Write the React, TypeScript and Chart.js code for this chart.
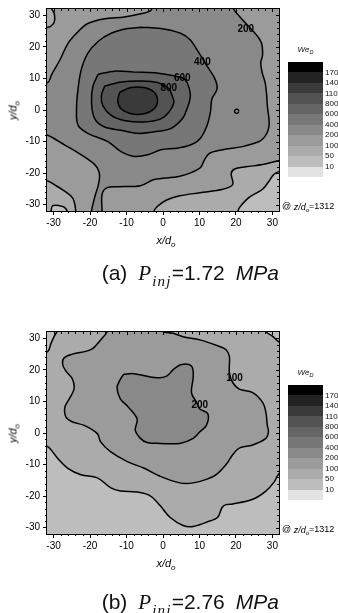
import React, { useEffect, useRef } from 'react';
import { Chart, registerables } from 'chart.js';
Chart.register(...registerables);

type Pt = [number, number];

const FONT = '"Liberation Sans", Arial, Helvetica, sans-serif';
const SERIF = '"Liberation Serif", "Times New Roman", serif';

// axis ranges (x/d_o, y/d_o)
const X_MIN = -31.8;
const X_MAX = 31.8;
const Y_MIN = -32;
const Y_MAX = 32;
const TICK_STEP = 10;
const MINOR_STEP = 2;

// colour bar: labels at band boundaries, bands from top (highest We_D) to bottom
const BAND_LABELS = ['1700', '1400', '1100', '800', '600', '400', '200', '100', '50', '10'];
const BAND_COLORS = ['#000000', '#222222', '#3a3a3a', '#535353', '#656565', '#777777', '#898989', '#9b9b9b', '#ababab', '#bdbdbd', '#e3e3e3'];
// band index helpers
const L_1100 = 2, L_800 = 3, L_600 = 4, L_400 = 5, L_200 = 6, L_100 = 7, L_50 = 8, L_10 = 9;

// ---------- (a) P_inj = 1.72 MPa : contour outlines (x/d_o, y/d_o) ----------
const A_TOPLEFT: Pt[] = [[-30.4, 34], [-30.5, 32.1], [-29.8, 30.5], [-29.8, 27.9], [-30.7, 26.6], [-31.6, 26.2], [-34, 26], [-34, 34]];
const A_BOTTOMLEFT: Pt[] = [[-34, -22.3], [-31.6, -22.5], [-29.3, -24.0], [-27.1, -25.6], [-25.3, -27.2], [-24.4, -28.8], [-23.9, -32.1], [-23.8, -35], [-34, -35]];
const A_BL_LOOP: Pt[] = [[-30.7, -35], [-30.6, -31.3], [-30.2, -30.3], [-28.4, -30.3], [-27.1, -30.8], [-26.3, -32.1], [-26.2, -35]];
const A_BOTTOM50: Pt[] = [[-2.6, -35], [-2.5, -32.1], [-1.5, -30.5], [1.0, -28.5], [4.6, -27.2], [10.1, -26.2], [16.4, -25.1], [19.1, -23.6], [18.7, -20.2], [19.6, -18.7], [22.7, -18.0], [27.3, -17.3], [31.5, -16.1], [34, -15.6], [34, -35]];
const A_CORNER10: Pt[] = [[20.5, -35], [20.6, -32.1], [20.9, -31.0], [23.6, -27.7], [27.3, -25.1], [29.1, -22.5], [30.3, -20.5], [31.6, -19.6], [34, -19.2], [34, -35]];
const A_200: Pt[] = [
  [-34, 9.8], [-31.6, 8.7], [-30.5, 11.3], [-28.2, 16.0], [-26.0, 21.2], [-23.3, 24.8], [-20.6, 27.4], [-16.0, 28.9], [-10.6, 29.5], [-6.1, 30.5], [-3.3, 31.6], [-2.2, 34.5],
  [19.0, 34.5], [19.3, 32.1], [21.1, 29.5], [23.4, 26.6], [25.6, 23.8], [27.0, 21.2], [27.3, 17.5], [26.8, 14.9], [27.2, 11.8], [28.0, 8.7], [28.4, 5.0], [28.6, 1.4], [29.1, -3.8], [28.8, -6.5], [27.8, -8.6], [26.4, -10.0], [21.8, -11.6], [16.4, -12.6], [12.8, -13.7], [11.4, -15.7], [10.1, -18.4], [4.6, -21.0], [-2.4, -22.0], [-6.2, -24.0], [-12.0, -24.3], [-15.3, -24.6], [-16.7, -26.7], [-16.7, -32.1], [-16.7, -35],
  [-19.6, -35], [-19.6, -32.1], [-19.2, -29.8], [-18.5, -26.7], [-17.8, -24.1], [-17.4, -21.5], [-17.6, -19.4], [-18.7, -17.3], [-22.4, -14.2], [-26.9, -11.1], [-31.6, -8.0], [-34, -7.5],
];
const A_HOLE: Pt[] = [[20.75, -0.4], [20.6, 0.1], [20.2, 0.25], [19.8, 0.1], [19.65, -0.4], [19.8, -0.9], [20.2, -1.05], [20.6, -0.9], [20.75, -0.4]];
const A_400: Pt[] = [[-6.1, 26.2], [-0.6, 25.8], [4.8, 24.3], [7.5, 22.2], [9.3, 19.1], [12.1, 13.9], [14.3, 9.7], [14.8, 6.6], [13.4, 3.5], [13.0, -0.7], [12.1, -4.8], [10.2, -9.0], [7.5, -11.1], [3.9, -12.1], [-0.6, -12.6], [-4.2, -14.2], [-7.9, -14.7], [-11.5, -13.2], [-15.1, -10.0], [-20.6, -7.4], [-23.3, -4.8], [-23.7, 0.4], [-23.3, 6.6], [-22.4, 12.8], [-20.6, 18.0], [-17.8, 21.7], [-14.2, 24.3], [-9.7, 25.8], [-6.1, 26.2]];
const A_600: Pt[] = [[-17.8, 11.3], [-13.3, 12.3], [-7.9, 12.0], [-2.4, 11.8], [2.1, 11.0], [5.3, 10.2], [6.6, 8.7], [7.5, 4.5], [6.6, 0.4], [5.3, -2.8], [2.1, -5.9], [-2.4, -6.9], [-7.0, -7.4], [-11.5, -6.4], [-16.0, -5.4], [-18.7, -2.8], [-19.6, 2.4], [-19.2, 7.6], [-17.8, 11.3]];
const A_800: Pt[] = [[-16.0, 7.6], [-11.5, 8.9], [-6.1, 9.2], [-1.5, 8.7], [1.6, 6.8], [2.5, 4.5], [3.0, 2.4], [1.6, -0.7], [-0.6, -2.8], [-5.2, -3.8], [-10.6, -3.3], [-14.2, -1.7], [-16.5, 1.4], [-16.9, 4.5], [-16.0, 7.6]];
const A_1100: Pt[] = [[-11.9, 5.6], [-8.8, 7.1], [-5.2, 7.1], [-2.4, 5.6], [-1.5, 2.9], [-2.4, 0.4], [-5.2, -1.2], [-8.8, -1.2], [-11.5, 0.4], [-12.4, 2.9], [-11.9, 5.6]];
const A_LABELS: { t: string; x: number; y: number }[] = [
  { t: '200', x: 22.7, y: 25.5 },
  { t: '400', x: 10.8, y: 15.2 },
  { t: '600', x: 5.3, y: 10.2 },
  { t: '800', x: 1.6, y: 6.8 },
];

// ---------- (b) P_inj = 2.76 MPa ----------
const B_BOTTOM: Pt[] = [[-34, -4.0], [-31.6, -4.3], [-28.9, -8.0], [-26.2, -11.1], [-22.5, -13.2], [-18.0, -14.2], [-14.4, -17.3], [-11.7, -18.4], [-7.1, -18.7], [-3.5, -19.9], [-0.8, -23.0], [1.9, -26.7], [5.5, -29.3], [8.3, -29.6], [12.8, -27.9], [15.0, -26.7], [16.2, -23.6], [17.3, -22.7], [19.1, -22.5], [24.6, -21.0], [28.2, -18.4], [30.5, -15.5], [31.6, -13.2], [34, -11], [34, -36], [-34, -36]];
const B_TOPLEFT: Pt[] = [[-34, 25.6], [-31.6, 25.8], [-30.7, 28.4], [-29.8, 30.7], [-29.1, 32.1], [-28.8, 34], [-34, 34]];
const B_TOPRIGHT: Pt[] = [[28.0, 34], [28.2, 32.1], [30.0, 30.7], [31.6, 29.0], [34, 27.5], [34, 34]];
const B_C100: Pt[] = [[-15.0, 34.5], [-15.3, 32.1], [-17.1, 29.5], [-19.8, 26.4], [-24.8, 25.0], [-27.1, 23.8], [-27.5, 21.7], [-26.6, 19.6], [-24.8, 17.0], [-24.4, 13.9], [-25.7, 10.8], [-26.9, 8.2], [-26.6, 5.0], [-24.8, 3.5], [-21.6, 2.4], [-18.0, -0.2], [-17.1, -2.8], [-14.4, -5.9], [-9.9, -9.0], [-5.3, -11.1], [-0.8, -13.7], [4.6, -15.8], [8.3, -15.8], [11.9, -14.7], [14.6, -13.2], [17.3, -10.0], [19.1, -6.9], [20.9, -4.8], [24.6, -3.8], [28.2, -1.7], [28.9, 0.4], [28.6, 2.4], [28.2, 6.6], [27.3, 9.7], [24.6, 12.8], [20.9, 13.9], [19.1, 16.0], [18.2, 19.1], [18.2, 24.3], [17.3, 26.4], [15.5, 27.4], [10.1, 29.5], [5.5, 30.5], [2.8, 31.6], [0.1, 32.1], [-0.2, 34.5]];
const B_C200: Pt[] = [[-10.8, 18.6], [-8.05, 18.8], [-1.7, 17.5], [1.0, 18.0], [2.8, 20.1], [5.1, 21.7], [7.8, 21.2], [8.3, 18.0], [7.8, 12.8], [9.2, 9.7], [10.1, 7.6], [12.3, 6.1], [11.9, 2.4], [10.1, 0.4], [8.3, -1.7], [4.6, -3.3], [-0.8, -3.3], [-4.4, -3.0], [-6.2, -1.7], [-7.6, 0.9], [-7.1, 4.5], [-9.9, 8.7], [-11.7, 10.8], [-12.6, 14.4], [-11.7, 17.0], [-10.8, 18.6]];
const B_LABELS: { t: string; x: number; y: number }[] = [
  { t: '100', x: 19.6, y: 17.5 },
  { t: '200', x: 10.1, y: 8.9 },
];

type Region = { pts: Pt[]; band: number };

const A_REGIONS: Region[] = [
  { pts: A_TOPLEFT, band: L_50 },
  { pts: A_BOTTOMLEFT, band: L_50 },
  { pts: A_BL_LOOP, band: L_10 },
  { pts: A_BOTTOM50, band: L_50 },
  { pts: A_CORNER10, band: L_10 },
  { pts: A_200, band: L_200 },
  { pts: A_HOLE, band: L_100 },
  { pts: A_400, band: L_400 },
  { pts: A_600, band: L_600 },
  { pts: A_800, band: L_800 },
  { pts: A_1100, band: L_1100 },
];
const B_REGIONS: Region[] = [
  { pts: B_BOTTOM, band: L_10 },
  { pts: B_TOPLEFT, band: L_10 },
  { pts: B_TOPRIGHT, band: L_10 },
  { pts: B_C100, band: L_100 },
  { pts: B_C200, band: L_200 },
];

const CANVAS_W = 338;
const CANVAS_H = 260;

function makePlugin(baseBand: number, labels: { t: string; x: number; y: number }[]) {
  return {
    id: 'contour',
    beforeDatasetsDraw(chart: any) {
      const { ctx, chartArea: a } = chart;
      ctx.save();
      ctx.beginPath();
      ctx.rect(a.left, a.top, a.right - a.left, a.bottom - a.top);
      ctx.clip();
      ctx.fillStyle = BAND_COLORS[baseBand];
      ctx.fillRect(a.left, a.top, a.right - a.left, a.bottom - a.top);
      chart.data.datasets.forEach((ds: any, i: number) => {
        const meta = chart.getDatasetMeta(i);
        const line = meta.dataset;
        if (!line) return;
        line.updateControlPoints(a, 'x');
        ctx.beginPath();
        line.path(ctx);
        ctx.closePath();
        ctx.fillStyle = ds.backgroundColor;
        ctx.fill();
      });
      ctx.restore();
    },
    afterDatasetsDraw(chart: any) {
      const { ctx, chartArea: a, scales } = chart;
      const xs = scales.x, ys = scales.y;
      ctx.save();
      // contour labels
      ctx.font = `bold 10px ${FONT}`;
      ctx.textAlign = 'center';
      ctx.textBaseline = 'middle';
      ctx.fillStyle = '#000';
      labels.forEach((l) => {
        ctx.fillText(l.t, xs.getPixelForValue(l.x), ys.getPixelForValue(l.y));
      });
      // frame
      ctx.strokeStyle = '#000';
      ctx.lineWidth = 1;
      ctx.strokeRect(a.left - 0.5, a.top - 0.5, a.right - a.left + 1, a.bottom - a.top + 1);
      // minor ticks (outside, bottom/left) and mirrored ticks (inside, top/right)
      ctx.beginPath();
      for (let v = -40; v <= 40; v += MINOR_STEP) {
        const major = v % TICK_STEP === 0;
        if (v > X_MIN && v < X_MAX) {
          const px = Math.round(xs.getPixelForValue(v)) + 0.5;
          if (!major) {
            ctx.moveTo(px, a.bottom);
            ctx.lineTo(px, a.bottom + 2);
          }
          ctx.moveTo(px, a.top);
          ctx.lineTo(px, a.top + (major ? 3 : 2));
        }
        if (v > Y_MIN && v < Y_MAX) {
          const py = Math.round(ys.getPixelForValue(v)) + 0.5;
          if (!major) {
            ctx.moveTo(a.left, py);
            ctx.lineTo(a.left - 2, py);
          }
          ctx.moveTo(a.right, py);
          ctx.lineTo(a.right - (major ? 3 : 2), py);
        }
      }
      ctx.stroke();

      // colour bar
      const cbL = a.right + 9;
      const cbT = a.top + 53;
      const cbW = 35;
      const cbH = 115;
      const bh = cbH / BAND_COLORS.length;
      BAND_COLORS.forEach((c, i) => {
        ctx.fillStyle = c;
        ctx.fillRect(cbL, Math.round(cbT + i * bh), cbW, Math.round(cbT + (i + 1) * bh) - Math.round(cbT + i * bh));
      });
      ctx.fillStyle = '#111';
      ctx.font = `8px ${FONT}`;
      ctx.textAlign = 'left';
      ctx.textBaseline = 'middle';
      BAND_LABELS.forEach((t, i) => {
        ctx.fillText(t, cbL + cbW + 2, cbT + (i + 1) * bh);
      });
      // colour bar title We_D
      ctx.font = `italic 8px ${FONT}`;
      const wWe = ctx.measureText('We').width;
      ctx.font = `italic 5.5px ${FONT}`;
      const wD = ctx.measureText('D').width;
      let tx = cbL + cbW / 2 - (wWe + wD) / 2;
      const ty = a.top + 41;
      ctx.font = `italic 8px ${FONT}`;
      ctx.fillText('We', tx, ty);
      tx += wWe;
      ctx.font = `italic 5.5px ${FONT}`;
      ctx.fillText('D', tx, ty + 2.5);

      // @ z/d_o=1312
      const ay = a.bottom - 4;
      let ax = a.right + 3;
      const seg = (t: string, f: string, dy = 0) => {
        ctx.font = f;
        ctx.fillText(t, ax, ay + dy);
        ax += ctx.measureText(t).width;
      };
      ctx.fillStyle = '#000';
      seg('@ ', `9px ${FONT}`);
      seg('z/d', `italic 9px ${FONT}`);
      seg('o', `italic 6px ${FONT}`, 3);
      seg('=1312', `9px ${FONT}`);
      ctx.restore();
    },
  };
}

function ContourChart({ top, regions, baseBand, labels }: { top: number; regions: Region[]; baseBand: number; labels: { t: string; x: number; y: number }[] }) {
  const ref = useRef<HTMLCanvasElement>(null);
  useEffect(() => {
    const tickFont = { family: FONT, size: 10 };
    const chart = new Chart(ref.current as HTMLCanvasElement, {
      type: 'scatter',
      data: {
        datasets: regions.map((r) => ({
          data: r.pts.map(([x, y]) => ({ x, y })),
          showLine: true,
          borderColor: '#000',
          borderWidth: 1.5,
          backgroundColor: BAND_COLORS[r.band],
          pointRadius: 0,
          pointHoverRadius: 0,
          tension: 0.35,
          fill: false,
        })),
      },
      options: {
        responsive: false,
        animation: false,
        devicePixelRatio: 1,
        events: [],
        layout: { padding: { left: 0, top: 5, right: CANVAS_W - 279, bottom: 29 } },
        plugins: { legend: { display: false }, tooltip: { enabled: false } },
        scales: {
          x: {
            type: 'linear',
            position: 'bottom',
            min: X_MIN,
            max: X_MAX,
            afterFit: (s: any) => { s.height = 20; },
            ticks: { stepSize: TICK_STEP, includeBounds: false, autoSkip: false, maxRotation: 0, padding: 2, color: '#000', font: tickFont },
            grid: { drawOnChartArea: false, tickLength: 4, color: '#000', lineWidth: 1 },
            border: { display: false },
          },
          y: {
            type: 'linear',
            position: 'left',
            min: Y_MIN,
            max: Y_MAX,
            afterFit: (s: any) => { s.width = 47; },
            ticks: { stepSize: TICK_STEP, includeBounds: false, autoSkip: false, padding: 3, color: '#000', font: tickFont },
            grid: { drawOnChartArea: false, tickLength: 4, color: '#000', lineWidth: 1 },
            border: { display: false },
          },
        },
      } as any,
      plugins: [makePlugin(baseBand, labels) as any],
    });
    return () => chart.destroy();
  }, []);
  return <canvas ref={ref} width={CANVAS_W} height={CANVAS_H} style={{ position: 'absolute', left: 0, top, width: CANVAS_W, height: CANVAS_H }} />;
}

function AxisTitles({ top }: { top: number }) {
  const sub = { fontSize: 8, position: 'relative' as const, top: 3 };
  return (
    <>
      <div style={{ position: 'absolute', left: 113, width: 106, top: top + 234, textAlign: 'center', fontSize: 11, lineHeight: '13px', fontStyle: 'italic', fontFamily: FONT, color: '#000', whiteSpace: 'nowrap' }}>
        x/d<span style={sub}>o</span>
      </div>
      <div style={{ position: 'absolute', left: 12.5 - 50, width: 100, top: top + 110 - 6.5, height: 13, textAlign: 'center', fontSize: 11, lineHeight: '13px', fontStyle: 'italic', fontFamily: FONT, color: '#000', whiteSpace: 'nowrap', transform: 'rotate(-90deg)', transformOrigin: '50% 50%' }}>
        y/d<span style={sub}>o</span>
      </div>
    </>
  );
}

function Caption({ top, tag, value }: { top: number; tag: string; value: string }) {
  return (
    <div style={{ position: 'absolute', left: 101.7, top, fontSize: 21, lineHeight: '25px', whiteSpace: 'nowrap', fontFamily: FONT, color: '#111' }}>
      <span>{tag}</span>
      <span style={{ marginLeft: 11, fontFamily: SERIF, fontStyle: 'italic' }}>P</span>
      <span style={{ fontFamily: SERIF, fontStyle: 'italic', fontSize: 15, letterSpacing: 1.2, position: 'relative', top: 6, marginLeft: 1 }}>inj</span>
      <span>{value}</span>
      <span style={{ marginLeft: 11, fontStyle: 'italic' }}>MPa</span>
    </div>
  );
}

export default function App() {
  useEffect(() => {
    document.body.style.margin = '0';
  }, []);
  return (
    <div style={{ position: 'relative', width: 338, height: 613, overflow: 'hidden', background: '#fff' }}>
      <ContourChart top={0} regions={A_REGIONS} baseBand={L_100} labels={A_LABELS} />
      <AxisTitles top={0} />
      <Caption top={259.5} tag="(a)" value="=1.72" />
      <ContourChart top={323} regions={B_REGIONS} baseBand={L_50} labels={B_LABELS} />
      <AxisTitles top={323} />
      <Caption top={589.2} tag="(b)" value="=2.76" />
    </div>
  );
}
